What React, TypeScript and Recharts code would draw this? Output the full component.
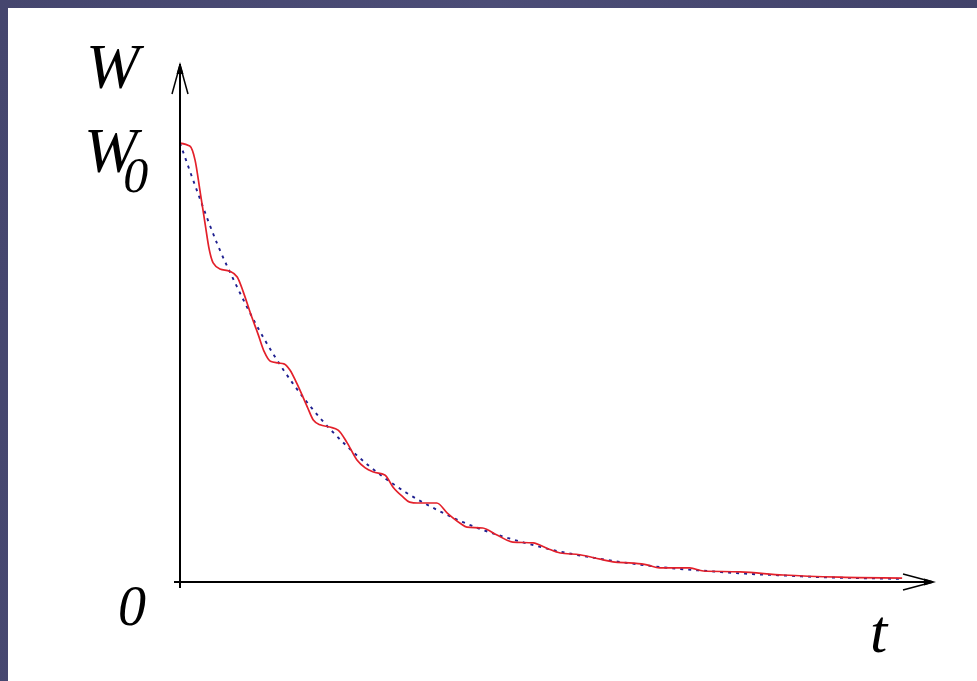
import { LineChart, Line, XAxis, YAxis } from 'recharts';

// t axis runs 0..10, W is normalised so that W0 = 1
const redT = [0, 0.13, 0.2, 0.27, 0.33, 0.39, 0.44, 0.53, 0.66, 0.76, 0.84, 0.93, 1.04, 1.12, 1.2, 1.3, 1.38, 1.46, 1.55, 1.69, 1.77, 1.86, 1.99, 2.1, 2.22, 2.35, 2.46, 2.56, 2.72, 2.83, 2.96, 3.05, 3.15, 3.41, 3.55, 3.72, 3.81, 4.02, 4.21, 4.42, 4.69, 4.87, 5.05, 5.31, 5.58, 5.75, 6.02, 6.2, 6.37, 6.77, 6.95, 7.44, 8.01, 8.76, 9.59];
const redW = [1.0, 0.993, 0.961, 0.886, 0.82, 0.756, 0.727, 0.713, 0.708, 0.695, 0.661, 0.615, 0.563, 0.524, 0.503, 0.499, 0.497, 0.483, 0.453, 0.399, 0.369, 0.358, 0.353, 0.346, 0.317, 0.278, 0.26, 0.251, 0.244, 0.216, 0.194, 0.182, 0.18, 0.18, 0.157, 0.134, 0.125, 0.123, 0.107, 0.091, 0.089, 0.077, 0.066, 0.062, 0.052, 0.046, 0.043, 0.039, 0.032, 0.032, 0.025, 0.023, 0.016, 0.011, 0.009];

const blueT = [0, 0.25, 0.5, 0.75, 1.0, 1.25, 1.5, 1.75, 2.0, 2.25, 2.5, 2.75, 3.0, 3.25, 3.5, 3.75, 4.0, 4.5, 5.0, 5.5, 6.0, 6.5, 7.0, 7.5, 8.0, 8.5, 9.0, 9.6];
const blueW = [1.0, 0.88, 0.768, 0.675, 0.59, 0.516, 0.452, 0.396, 0.347, 0.304, 0.266, 0.233, 0.204, 0.179, 0.157, 0.137, 0.12, 0.093, 0.071, 0.055, 0.042, 0.032, 0.025, 0.019, 0.015, 0.011, 0.009, 0.007];

const redData = redT.map((t, i) => ({ t, w: redW[i] }));
const blueData = blueT.map((t, i) => ({ t, w: blueW[i] }));

const W = 977;
const H = 681;
const serif = '"Liberation Serif", "DejaVu Serif", serif';

export default function App() {
  return (
    <div
      style={{
        position: 'absolute', left: 0, top: 0, width: W, height: H, overflow: 'hidden',
        background: 'linear-gradient(100deg, #45466e 0%, #4c4d77 45%, #3f4067 100%)',
      }}
    >
      <div style={{ position: 'absolute', left: 8, top: 8, right: 0, bottom: 0, background: '#ffffff' }} />
      <div style={{ position: 'absolute', left: 0, top: 0 }}>
        <LineChart width={W} height={H} margin={{ top: 64, right: 44, bottom: 98, left: 179 }}>
          <XAxis
            type="number" dataKey="t" domain={[0, 10]} height={1}
            tick={false} tickLine={false} axisLine={{ stroke: '#000', strokeWidth: 2 }}
            allowDataOverflow
          />
          <YAxis
            type="number" dataKey="w" domain={[0, 1.18]} width={1}
            tick={false} tickLine={false} axisLine={{ stroke: '#000', strokeWidth: 2 }}
            allowDataOverflow
          />
          <Line
            data={blueData} dataKey="w" type="monotone" stroke="#1f2090" strokeWidth={1.9}
            strokeDasharray="3 5" dot={false} isAnimationActive={false}
          />
          <Line
            data={redData} dataKey="w" type="monotone" stroke="#e3202a" strokeWidth={1.7}
            dot={false} isAnimationActive={false}
          />
        </LineChart>
      </div>
      {/* arrows and labels */}
      <svg width={W} height={H} style={{ position: 'absolute', left: 0, top: 0, pointerEvents: 'none' }}>
        <line x1={180} y1={580} x2={180} y2={588} stroke="#000" strokeWidth={2} />
        <line x1={174} y1={582} x2={182} y2={582} stroke="#000" strokeWidth={2} />
        <g stroke="#000" strokeWidth={1.5} fill="none">
          <line x1={180} y1={65} x2={172} y2={94} />
          <line x1={180} y1={65} x2={188} y2={94} />
          <line x1={933} y1={582} x2={903} y2={574} />
          <line x1={933} y1={582} x2={903} y2={590} />
        </g>
        <polygon points="180,62 176.5,74 183.5,74" fill="#000" />
        <polygon points="936,582 924,578.5 924,585.5" fill="#000" />
        <g fontFamily={serif} fontStyle="italic" fill="#000">
          <text x={86} y={88} fontSize={64}>W</text>
          <text x={84} y={172} fontSize={64}>
            W<tspan dx={-14} dy={20} fontSize={50}>0</tspan>
          </text>
          <text x={118} y={625} fontSize={56}>0</text>
          <text x={870} y={652} fontSize={62}>t</text>
        </g>
      </svg>
    </div>
  );
}
